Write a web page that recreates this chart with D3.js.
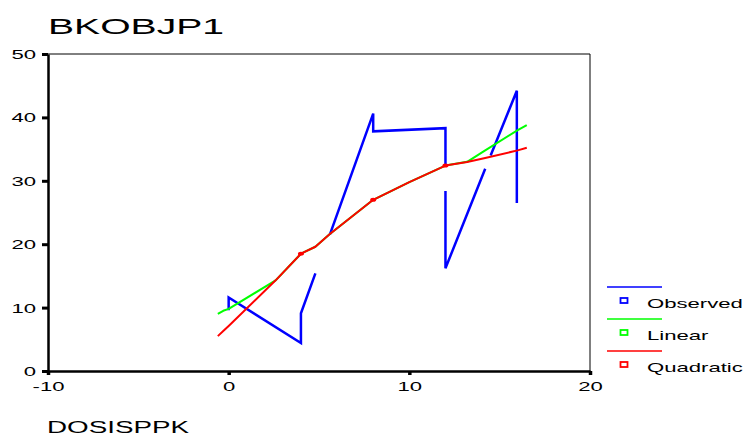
<!DOCTYPE html>
<html>
<head>
<meta charset="utf-8">
<script src="https://cdn.jsdelivr.net/npm/d3@7"></script>
<style>
html,body{margin:0;padding:0;background:#fff;}
svg{display:block;font-family:"Liberation Sans",Arial,sans-serif;}
</style>
</head>
<body>
<svg id="chart" width="748" height="435"></svg>
<script>
// ---- data ----
const title = "BKOBJP1";
const xLabel = "DOSISPPK";
const xTicks = [-10, 0, 10, 20];
const yTicks = [0, 10, 20, 30, 40, 50];

// observed cases (null = missing dependent value -> break in line)
const doseX    = [-0.6, 0,   0,    4,   4,   4.8,  5.2, 5.6,  8,    8,    12,   12,   12,  12,   12,   14.2, 14.35, 14.5, 15.95, 15.95, 16.5];
const observed = [null, 9.6, 11.6, 4.4, 9.1, 15.4, null, 21.5, 40.6, 37.8, 38.3, 32.6, null, 28.4, 16.2, 31.9, null,  34.0, 44.2,  26.5,  null];

// fitted curves
const fitX      = [-0.6, -0.3, 0,   2.6,  4,    4.8,  5.6,  8,    10,   12,   13.2, 14.2, 16,   16.5];
const linear    = [9.0,  9.5,  9.8, 14.3, 18.5, 19.6, 21.6, 27.0, 29.8, 32.4, 33.0, 34.8, 38.0, 38.8];
const quadratic = [5.5,  6.3,  7.1, 14.3, 18.5, 19.6, 21.6, 27.0, 29.8, 32.4, 32.95,33.6, 34.8, 35.2];
const quadBlobs = [4, 8, 12];

const legendNames  = ["Observed", "Linear", "Quadratic"];
const legendColors = ["#0000ff", "#00ff00", "#ff0000"];

// ---- drawing ----
const svg = d3.select("#chart");
const x = d3.scaleLinear().domain([-10, 20]).range([48, 590]);
const y = d3.scaleLinear().domain([0, 50]).range([371, 54]);

function stretch(sel, target) {
  sel.attr("textLength", target).attr("lengthAdjust", "spacingAndGlyphs");
}
const K = 1.7;
function stretchK(sel) {
  sel.each(function() {
    const w = this.getComputedTextLength();
    d3.select(this).attr("textLength", w * K).attr("lengthAdjust", "spacingAndGlyphs");
  });
}

// title
svg.append("text").attr("x", 48).attr("y", 34)
  .attr("font-size", 22).attr("fill", "#000").text(title)
  .call(stretch, 176);

// frame top/right
svg.append("line").attr("x1", x(-10)).attr("x2", x(20)).attr("y1", y(50)).attr("y2", y(50))
  .attr("stroke", "#000").attr("stroke-width", 1);
svg.append("line").attr("x1", x(20)).attr("x2", x(20)).attr("y1", y(50)).attr("y2", y(0))
  .attr("stroke", "#000").attr("stroke-width", 1);

// y axis
const gy = svg.append("g").attr("transform", `translate(${x(-10)},0)`)
  .call(d3.axisLeft(y).tickValues(yTicks).tickFormat(d => String(d))
    .tickSize(6).tickSizeOuter(0).tickPadding(6));
gy.select(".domain").attr("stroke", "#000").attr("stroke-width", 2.5);
gy.selectAll(".tick line").attr("stroke", "#000").attr("stroke-width", 3);
gy.selectAll(".tick text").attr("font-size", 13).attr("fill", "#000")
  .attr("font-family", "Liberation Sans, Arial, sans-serif").attr("x", -12).attr("dy", "0.35em")
  .call(stretchK);

// x axis
const gx = svg.append("g").attr("transform", `translate(0,${y(0)})`)
  .call(d3.axisBottom(x).tickValues(xTicks).tickFormat(d => String(d))
    .tickSize(4).tickSizeOuter(0).tickPadding(4));
gx.select(".domain").attr("stroke", "#000").attr("stroke-width", 2.5);
gx.selectAll(".tick line").attr("stroke", "#000").attr("stroke-width", 3.5);
gx.selectAll(".tick text").attr("font-size", 13).attr("fill", "#000")
  .attr("font-family", "Liberation Sans, Arial, sans-serif").attr("y", 11).attr("dy", "0.71em")
  .call(stretchK);

// x label
svg.append("text").attr("x", 47).attr("y", 433)
  .attr("font-size", 16).attr("fill", "#000").text(xLabel)
  .call(stretch, 142);

// observed line
const obs = doseX.map((d, i) => ({x: d, y: observed[i]}));
svg.append("path").datum(obs)
  .attr("fill", "none").attr("stroke", legendColors[0]).attr("stroke-width", 2.5)
  .attr("stroke-linejoin", "miter")
  .attr("d", d3.line().defined(d => d.y !== null).x(d => x(d.x)).y(d => y(d.y)));

// fitted lines
const lin = fitX.map((d, i) => ({x: d, y: linear[i]}));
const quad = fitX.map((d, i) => ({x: d, y: quadratic[i]}));
const ln = d3.line().x(d => x(d.x)).y(d => y(d.y));
svg.append("path").datum(lin).attr("fill", "none").attr("stroke", legendColors[1])
  .attr("stroke-width", 2).attr("stroke-linejoin", "round").attr("d", ln);
svg.append("path").datum(quad).attr("fill", "none").attr("stroke", legendColors[2])
  .attr("stroke-width", 2).attr("stroke-linejoin", "round").attr("d", ln);
svg.selectAll(".blob").data(quad.filter(d => quadBlobs.includes(d.x))).enter()
  .append("ellipse").attr("cx", d => x(d.x)).attr("cy", d => y(d.y))
  .attr("rx", 3).attr("ry", 2).attr("fill", legendColors[2]);

// legend
const lg = svg.append("g");
legendNames.forEach((name, i) => {
  const top = 287 + i * 32;
  lg.append("line").attr("x1", 607).attr("x2", 662).attr("y1", top).attr("y2", top)
    .attr("stroke", legendColors[i]).attr("stroke-width", 1.5);
  lg.append("rect").attr("x", 620.5).attr("y", top + 11).attr("width", 7).attr("height", 5)
    .attr("fill", "none").attr("stroke", legendColors[i]).attr("stroke-width", 1.8);
  lg.append("text").attr("x", 647).attr("y", top + 21).attr("font-size", 13)
    .attr("fill", "#000").text(name).call(stretchK);
});
</script>
</body>
</html>
